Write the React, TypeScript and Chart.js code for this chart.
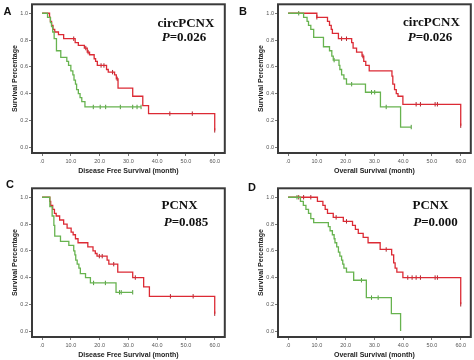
import React, { useEffect, useRef } from 'react';
import { Chart, registerables } from 'chart.js';

Chart.register(...registerables);

const xTicks = [0, 10, 20, 30, 40, 50, 60];
const xTickLabels = ['.0', '10.0', '20.0', '30.0', '40.0', '50.0', '60.0'];
const yTicks = [0, 0.2, 0.4, 0.6, 0.8, 1.0];
const yTickLabels = ['0.0', '0.2', '0.4', '0.6', '0.8', '1.0'];

// Panel A — circPCNX, disease free survival
const aRedTimes = [2.6, 2.9, 3.3, 3.8, 4.4, 5.7, 7.5, 11.5, 12.6, 14.7, 15.7, 16.5, 18.1, 18.6, 19.2, 22.4, 23.0, 25.2, 25.8, 26.4, 31.5, 35.0, 37.0, 60.0];
const aRedSurv = [0.97, 0.94, 0.91, 0.88, 0.86, 0.84, 0.81, 0.78, 0.76, 0.74, 0.71, 0.69, 0.66, 0.64, 0.61, 0.58, 0.56, 0.54, 0.51, 0.44, 0.38, 0.31, 0.25, 0.125];
const aRedCensor = [11.0, 15.2, 16.0, 20.5, 21.5, 24.5, 26.1, 44.4, 52.2, 60.0];
const aRedEnd = 60;
const aGreenTimes = [1.9, 2.9, 3.3, 3.7, 4.2, 5.0, 6.5, 8.6, 9.2, 10.0, 10.7, 11.1, 11.6, 12.0, 12.6, 13.2, 13.8, 14.9];
const aGreenSurv = [0.97, 0.93, 0.90, 0.86, 0.81, 0.72, 0.67, 0.64, 0.61, 0.57, 0.54, 0.50, 0.47, 0.43, 0.40, 0.37, 0.34, 0.30];
const aGreenCensor = [17.8, 20.2, 22.1, 27.2, 31.5, 33.0, 34.4];
const aGreenEnd = 34.4;

// Panel B — circPCNX, overall survival
const bRedTimes = [10.0, 13.7, 14.4, 15.0, 15.4, 17.5, 22.1, 22.6, 23.8, 25.7, 26.3, 27.0, 28.2, 36.1, 36.4, 37.0, 37.6, 38.2, 39.9, 60.0];
const bRedSurv = [0.97, 0.94, 0.91, 0.88, 0.85, 0.81, 0.78, 0.74, 0.71, 0.68, 0.64, 0.61, 0.57, 0.53, 0.47, 0.43, 0.40, 0.38, 0.32, 0.16];
const bRedCensor = [10.0, 18.6, 20.3, 26.0, 44.5, 46.0, 51.1, 51.9, 60.0];
const bRedEnd = 60;
const bGreenTimes = [5.4, 6.6, 7.1, 7.9, 8.9, 12.3, 14.4, 15.2, 15.7, 17.7, 18.0, 18.6, 19.4, 20.3, 26.9, 32.1, 39.1];
const bGreenSurv = [0.97, 0.94, 0.91, 0.88, 0.82, 0.75, 0.72, 0.68, 0.65, 0.61, 0.58, 0.54, 0.51, 0.47, 0.41, 0.30, 0.15];
const bGreenCensor = [3.7, 16.0, 22.1, 29.0, 30.1, 34.1, 42.8];
const bGreenEnd = 42.8;

// Panel C — PCNX, disease free survival
const cRedTimes = [2.7, 3.0, 3.7, 4.3, 4.9, 6.1, 7.5, 8.7, 10.1, 10.8, 11.6, 12.5, 15.9, 17.7, 18.5, 19.1, 22.6, 23.2, 26.3, 31.5, 35.3, 37.3, 60.0];
const cRedSurv = [0.97, 0.94, 0.91, 0.88, 0.86, 0.83, 0.80, 0.77, 0.74, 0.72, 0.69, 0.66, 0.63, 0.60, 0.58, 0.56, 0.53, 0.50, 0.44, 0.40, 0.33, 0.26, 0.13];
const cRedCensor = [19.9, 20.9, 24.9, 32.4, 44.6, 52.5, 60.0];
const cRedEnd = 60;
const cGreenTimes = [2.7, 3.5, 4.1, 4.4, 6.4, 9.3, 11.0, 11.4, 11.7, 12.2, 12.8, 13.3, 15.1, 16.8, 25.7];
const cGreenSurv = [0.93, 0.86, 0.79, 0.71, 0.67, 0.64, 0.60, 0.57, 0.53, 0.50, 0.47, 0.43, 0.40, 0.36, 0.29];
const cGreenCensor = [17.9, 22.0, 26.9, 27.5, 31.5];
const cGreenEnd = 31.5;

// Panel D — PCNX, overall survival
const dRedTimes = [10.2, 12.1, 12.9, 13.7, 15.7, 19.2, 22.4, 23.4, 24.4, 26.1, 27.8, 32.0, 36.0, 36.7, 37.2, 37.8, 39.9, 60.0];
const dRedSurv = [0.97, 0.94, 0.91, 0.88, 0.85, 0.82, 0.79, 0.76, 0.73, 0.70, 0.66, 0.61, 0.57, 0.51, 0.47, 0.44, 0.40, 0.20];
const dRedCensor = [3.7, 5.4, 7.9, 16.7, 20.3, 34.1, 41.6, 43.1, 44.5, 46.0, 51.1, 51.9, 60.0];
const dRedEnd = 60;
const dGreenTimes = [4.3, 5.3, 6.2, 7.1, 7.9, 8.9, 14.0, 14.6, 15.4, 16.0, 16.3, 16.9, 17.5, 18.0, 18.6, 19.0, 19.4, 20.3, 22.8, 27.2, 35.9, 39.1];
const dGreenSurv = [0.97, 0.94, 0.91, 0.88, 0.84, 0.81, 0.78, 0.75, 0.72, 0.69, 0.66, 0.63, 0.59, 0.56, 0.53, 0.50, 0.47, 0.44, 0.38, 0.25, 0.13, 0.0];
const dGreenCensor = [3.1, 25.5, 29.0, 31.3];
const dGreenEnd = 39.1;

const RED = '#dc2a34';
const GREEN = '#67b34f';

type Pt = { x: number; y: number };

function kmPoints(times: number[], surv: number[], end: number): Pt[] {
  const pts: Pt[] = [{ x: 0, y: 1 }];
  times.forEach((t, i) => pts.push({ x: t, y: surv[i] }));
  const last = pts[pts.length - 1];
  if (end > last.x) pts.push({ x: end, y: last.y });
  return pts;
}

function censorPoints(times: number[], surv: number[], censors: number[]): Pt[] {
  return censors.map((c) => {
    let y = 1;
    times.forEach((t, i) => {
      if (t <= c) y = surv[i];
    });
    return { x: c, y };
  });
}

const framePlugin = {
  id: 'frame',
  afterDraw(chart: any) {
    const { ctx, chartArea } = chart;
    ctx.save();
    ctx.strokeStyle = '#3a3a3a';
    ctx.lineWidth = 2;
    ctx.strokeRect(chartArea.left, chartArea.top, chartArea.right - chartArea.left, chartArea.bottom - chartArea.top);
    ctx.restore();
  },
};

type PanelProps = {
  left: number;
  top: number;
  xTitle: string;
  redTimes: number[];
  redSurv: number[];
  redEnd: number;
  redCensor: number[];
  greenTimes: number[];
  greenSurv: number[];
  greenEnd: number;
  greenCensor: number[];
};

const W = 228;
const H = 176;

function Panel(p: PanelProps) {
  const ref = useRef<HTMLCanvasElement>(null);
  useEffect(() => {
    if (!ref.current) return;
    const tickFont = { family: "'Liberation Sans', Arial, sans-serif", size: 5.5 };
    const titleFont = { family: "'Liberation Sans', Arial, sans-serif", size: 7, weight: 'bold' as const };
    const censorStyle = {
      showLine: false,
      pointStyle: 'line' as const,
      rotation: 90,
      pointRadius: 2.2,
      pointBorderWidth: 1,
      pointHoverRadius: 0,
    };
    const chart = new Chart(ref.current, {
      type: 'line',
      data: {
        datasets: [
          {
            data: kmPoints(p.greenTimes, p.greenSurv, p.greenEnd),
            borderColor: GREEN,
            borderWidth: 1.3,
            stepped: true,
            pointRadius: 0,
            fill: false,
          },
          {
            data: kmPoints(p.redTimes, p.redSurv, p.redEnd),
            borderColor: RED,
            borderWidth: 1.3,
            stepped: true,
            pointRadius: 0,
            fill: false,
          },
          {
            data: censorPoints(p.greenTimes, p.greenSurv, p.greenCensor),
            borderColor: '#4f9a3a',
            ...censorStyle,
          },
          {
            data: censorPoints(p.redTimes, p.redSurv, p.redCensor),
            borderColor: '#a8222b',
            ...censorStyle,
          },
        ] as any,
      },
      options: {
        responsive: false,
        animation: false,
        devicePixelRatio: 1,
        layout: { padding: { left: 0, top: 3, right: 3, bottom: 0 } },
        plugins: { legend: { display: false }, tooltip: { enabled: false } },
        events: [],
        scales: {
          x: {
            type: 'linear',
            min: -3.5,
            max: 63.5,
            afterBuildTicks: (s: any) => {
              s.ticks = xTicks.map((v) => ({ value: v }));
            },
            afterFit: (s: any) => {
              s.height = H - 153;
            },
            ticks: {
              font: tickFont,
              color: '#555',
              padding: 2,
              maxRotation: 0,
              autoSkip: false,
              callback: (_v: any, i: number) => xTickLabels[i],
            },
            grid: { drawOnChartArea: false, drawTicks: true, tickLength: 3, color: '#777' },
            border: { display: false },
            title: {
              display: true,
              text: p.xTitle,
              font: titleFont,
              color: '#222',
              padding: { top: 0, bottom: 1 },
            },
          },
          y: {
            type: 'linear',
            min: -0.044,
            max: 1.067,
            afterBuildTicks: (s: any) => {
              s.ticks = yTicks.map((v) => ({ value: v }));
            },
            afterFit: (s: any) => {
              s.width = 32;
            },
            ticks: {
              font: tickFont,
              color: '#555',
              padding: 1,
              autoSkip: false,
              callback: (_v: any, i: number) => yTickLabels[i],
            },
            grid: { drawOnChartArea: false, drawTicks: true, tickLength: 3, color: '#777' },
            border: { display: false },
            title: {
              display: true,
              text: 'Survival Percentage',
              font: titleFont,
              color: '#222',
              padding: { top: 11, bottom: 0 },
            },
          },
        },
      } as any,
      plugins: [framePlugin],
    });
    return () => chart.destroy();
  }, []);
  return (
    <canvas
      ref={ref}
      width={W}
      height={H}
      style={{ position: 'absolute', left: p.left, top: p.top, width: W, height: H }}
    />
  );
}

const serif = "'Liberation Serif', 'Times New Roman', serif";
const sans = "'Liberation Sans', Arial, sans-serif";

function Label({ x, y, children, font, size, style }: any) {
  return (
    <div
      style={{
        position: 'absolute',
        left: x,
        top: y,
        transform: 'translate(-50%, -50%)',
        fontFamily: font,
        fontSize: size,
        fontWeight: 'bold',
        lineHeight: 1,
        whiteSpace: 'nowrap',
        color: '#111',
        ...style,
      }}
    >
      {children}
    </div>
  );
}

function PText({ x, y, value }: { x: number; y: number; value: string }) {
  return (
    <Label x={x} y={y} font={serif} size={13}>
      <i>P</i>={value}
    </Label>
  );
}

export default function App() {
  return (
    <div style={{ position: 'fixed', left: 0, top: 0, width: 474, height: 360, background: '#fff', overflow: 'hidden' }}>
      <Panel left={0} top={0} xTitle="Disease Free Survival (month)"
        redTimes={aRedTimes} redSurv={aRedSurv} redEnd={aRedEnd} redCensor={aRedCensor}
        greenTimes={aGreenTimes} greenSurv={aGreenSurv} greenEnd={aGreenEnd} greenCensor={aGreenCensor} />
      <Panel left={246} top={0} xTitle="Overall Survival (month)"
        redTimes={bRedTimes} redSurv={bRedSurv} redEnd={bRedEnd} redCensor={bRedCensor}
        greenTimes={bGreenTimes} greenSurv={bGreenSurv} greenEnd={bGreenEnd} greenCensor={bGreenCensor} />
      <Panel left={0} top={184} xTitle="Disease Free Survival (month)"
        redTimes={cRedTimes} redSurv={cRedSurv} redEnd={cRedEnd} redCensor={cRedCensor}
        greenTimes={cGreenTimes} greenSurv={cGreenSurv} greenEnd={cGreenEnd} greenCensor={cGreenCensor} />
      <Panel left={246} top={184} xTitle="Overall Survival (month)"
        redTimes={dRedTimes} redSurv={dRedSurv} redEnd={dRedEnd} redCensor={dRedCensor}
        greenTimes={dGreenTimes} greenSurv={dGreenSurv} greenEnd={dGreenEnd} greenCensor={dGreenCensor} />

      <Label x={7.5} y={11} font={sans} size={11}>A</Label>
      <Label x={243} y={11} font={sans} size={11}>B</Label>
      <Label x={10} y={184} font={sans} size={11}>C</Label>
      <Label x={252} y={187} font={sans} size={11}>D</Label>

      <Label x={186} y={22} font={serif} size={13}>circPCNX</Label>
      <PText x={184} y={36} value="0.026" />
      <Label x={431.5} y={21} font={serif} size={13}>circPCNX</Label>
      <PText x={430} y={36} value="0.026" />
      <Label x={179.5} y={204} font={serif} size={13}>PCNX</Label>
      <PText x={186} y={221} value="0.085" />
      <Label x={430.5} y={204} font={serif} size={13}>PCNX</Label>
      <PText x={435.5} y={221} value="0.000" />
    </div>
  );
}
